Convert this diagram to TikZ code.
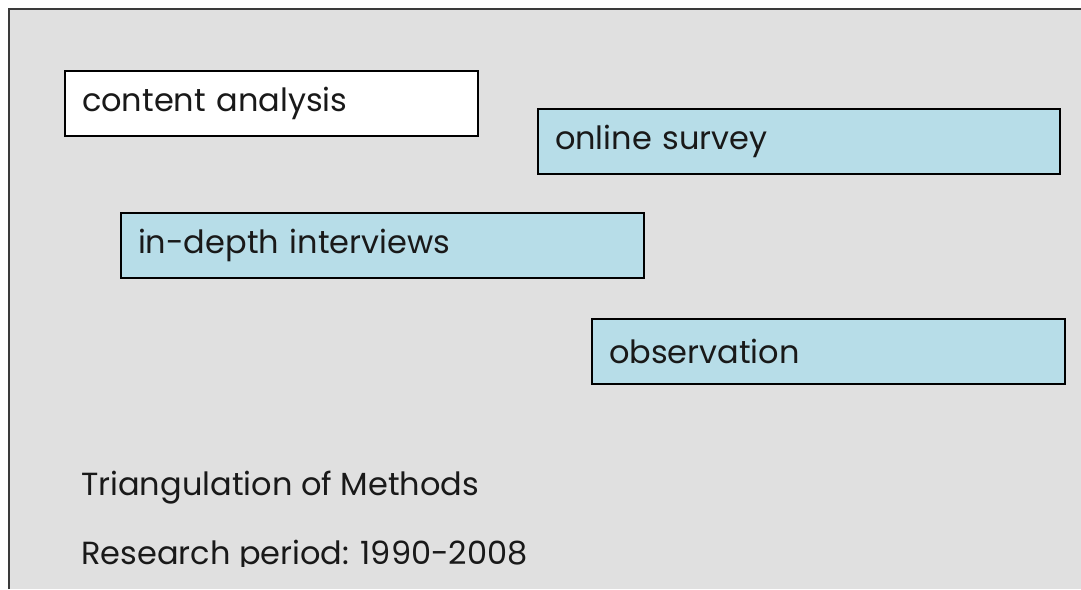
\documentclass[tikz,border=0pt]{standalone}
\usepackage{fontspec}
\setmainfont{Poppins}
\usetikzlibrary{positioning}
\definecolor{slidegray}{HTML}{E0E0E0}
\definecolor{boxblue}{HTML}{B7DDE8}
\definecolor{framegray}{HTML}{3A3A3A}
\tikzstyle{block} = [draw, fill=boxblue, rectangle, line width=2pt,
    minimum height=65pt, anchor=north west, inner xsep=17pt, align=left]
\tikzstyle{wblock} = [block, fill=white]
\tikzstyle{caption} = [anchor=base west, inner sep=0pt]

\begin{document}
\begin{tikzpicture}[x=1pt, y=-1pt, font=\fontsize{32}{38}\selectfont, text=black!90]
    \useasboundingbox (0,0) rectangle (1081,589);
    \fill[slidegray] (9,9) rectangle (1081,589);
    \draw[framegray, line width=1.5pt] (9,589) -- (9,9) -- (1081,9);

    \node (content) [wblock, text width=379pt] at (64,70) {content analysis};
    \node (survey) [block, text width=488pt] at (537,108) {online survey};
    \node (interviews) [block, text width=489pt] at (120,212) {in-depth interviews};
    \node (observation) [block, text width=439pt] at (591,318) {observation};

    \node (triangulation) [caption] at (81,495) {Triangulation of Methods};
    % text box cut at the bottom
    \begin{scope}
      \clip (0,0) rectangle (1081,566);
      \node (period) [caption] at (81,564) {Research period: 1990-2008};
    \end{scope}
\end{tikzpicture}
\end{document}
